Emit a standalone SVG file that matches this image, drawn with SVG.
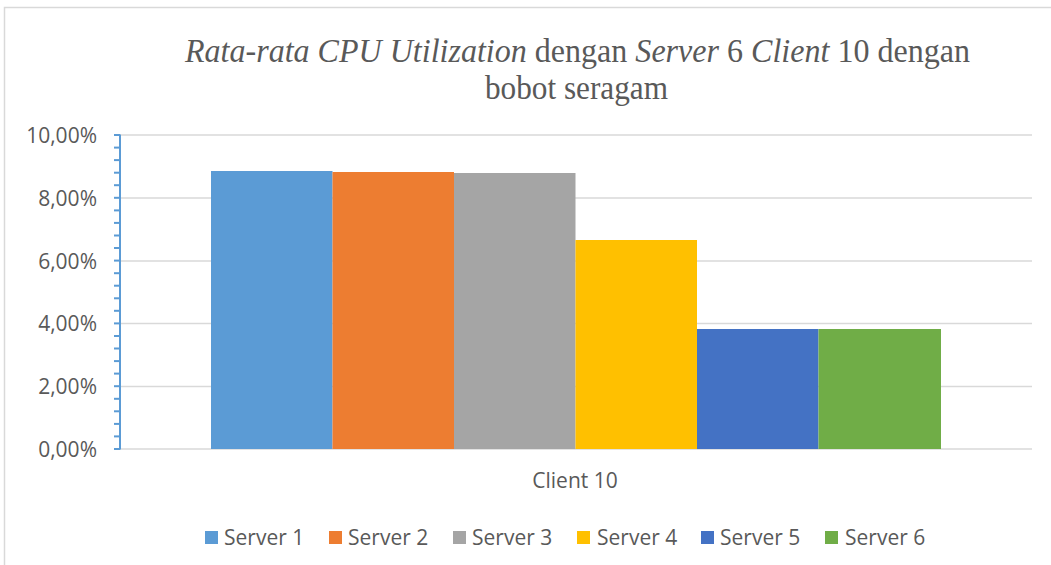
<svg xmlns="http://www.w3.org/2000/svg" width="1051" height="565" viewBox="0 0 1051 565">
  <style>
    .grid { stroke: #d9d9d9; stroke-width: 1.5; }
    .axis { stroke: #5b9bd5; stroke-width: 2; fill: none; }
    .tick { stroke: #5b9bd5; stroke-width: 2; }
    .lbl { font-family: "Open Sans", "Liberation Sans", sans-serif; fill: #595959; }
    .ylbl { font-size: 21px; text-anchor: end; }
    .title { font-family: "Liberation Serif", "Times New Roman", serif; fill: #595959; font-size: 33px; }
    .leg { font-size: 21px; }
  </style>

  <rect x="0" y="0" width="1051" height="565" fill="#ffffff"/>
  <!-- chart frame -->
  <rect x="4.5" y="7.5" width="1070" height="580" fill="#ffffff" stroke="#d9d9d9" stroke-width="1.5"/>

  <!-- title -->
  <g id="title">
    <text class="title" x="185" y="62" textLength="785" lengthAdjust="spacingAndGlyphs"><tspan font-style="italic">Rata-rata CPU Utilization</tspan> dengan <tspan font-style="italic">Server</tspan> 6 <tspan font-style="italic">Client</tspan> 10 dengan</text>
    <text class="title" x="485" y="99" textLength="183" lengthAdjust="spacingAndGlyphs">bobot seragam</text>
  </g>

  <!-- gridlines -->
  <g id="gridlines">
    <line class="grid" x1="120" y1="135" x2="1032" y2="135"/>
    <line class="grid" x1="120" y1="198" x2="1032" y2="198"/>
    <line class="grid" x1="120" y1="261" x2="1032" y2="261"/>
    <line class="grid" x1="120" y1="323.5" x2="1032" y2="323.5"/>
    <line class="grid" x1="120" y1="386.5" x2="1032" y2="386.5"/>
    <line class="grid" x1="120" y1="449" x2="1032" y2="449"/>
  </g>

  <!-- bars -->
  <g id="bars">
    <rect id="server1" x="211" y="171" width="121.5" height="278" fill="#5b9bd5"/>
    <rect id="server2" x="332.5" y="172" width="121.5" height="277" fill="#ed7d31"/>
    <rect id="server3" x="454" y="173" width="121.5" height="276" fill="#a5a5a5"/>
    <rect id="server4" x="575.5" y="240" width="121.5" height="209" fill="#ffc000"/>
    <rect id="server5" x="697" y="329" width="121.5" height="120" fill="#4472c4"/>
    <rect id="server6" x="818.5" y="329" width="122.5" height="120" fill="#70ad47"/>
  </g>

  <!-- value axis -->
  <g id="y-axis">
    <line class="axis" x1="120" y1="134.5" x2="120" y2="449.5"/>
    <line class="tick" x1="114" y1="135" x2="120" y2="135"/>
    <line class="tick" x1="114" y1="147.6" x2="120" y2="147.6"/>
    <line class="tick" x1="114" y1="160.1" x2="120" y2="160.1"/>
    <line class="tick" x1="114" y1="172.7" x2="120" y2="172.7"/>
    <line class="tick" x1="114" y1="185.2" x2="120" y2="185.2"/>
    <line class="tick" x1="114" y1="197.8" x2="120" y2="197.8"/>
    <line class="tick" x1="114" y1="210.4" x2="120" y2="210.4"/>
    <line class="tick" x1="114" y1="222.9" x2="120" y2="222.9"/>
    <line class="tick" x1="114" y1="235.5" x2="120" y2="235.5"/>
    <line class="tick" x1="114" y1="248.0" x2="120" y2="248.0"/>
    <line class="tick" x1="114" y1="260.6" x2="120" y2="260.6"/>
    <line class="tick" x1="114" y1="273.2" x2="120" y2="273.2"/>
    <line class="tick" x1="114" y1="285.7" x2="120" y2="285.7"/>
    <line class="tick" x1="114" y1="298.3" x2="120" y2="298.3"/>
    <line class="tick" x1="114" y1="310.8" x2="120" y2="310.8"/>
    <line class="tick" x1="114" y1="323.4" x2="120" y2="323.4"/>
    <line class="tick" x1="114" y1="336.0" x2="120" y2="336.0"/>
    <line class="tick" x1="114" y1="348.5" x2="120" y2="348.5"/>
    <line class="tick" x1="114" y1="361.1" x2="120" y2="361.1"/>
    <line class="tick" x1="114" y1="373.6" x2="120" y2="373.6"/>
    <line class="tick" x1="114" y1="386.2" x2="120" y2="386.2"/>
    <line class="tick" x1="114" y1="398.8" x2="120" y2="398.8"/>
    <line class="tick" x1="114" y1="411.3" x2="120" y2="411.3"/>
    <line class="tick" x1="114" y1="423.9" x2="120" y2="423.9"/>
    <line class="tick" x1="114" y1="436.4" x2="120" y2="436.4"/>
    <line class="tick" x1="114" y1="449" x2="120" y2="449"/>
    <text class="lbl ylbl" x="97" y="142.5">10,00%</text>
    <text class="lbl ylbl" x="97" y="205.5">8,00%</text>
    <text class="lbl ylbl" x="97" y="268.5">6,00%</text>
    <text class="lbl ylbl" x="97" y="331">4,00%</text>
    <text class="lbl ylbl" x="97" y="394">2,00%</text>
    <text class="lbl ylbl" x="97" y="456.5">0,00%</text>
  </g>

  <!-- category label -->
  <text class="lbl" x="575" y="487.5" font-size="21" text-anchor="middle">Client 10</text>

  <!-- legend -->
  <g id="legend">
    <rect x="205" y="531" width="13" height="13" fill="#5b9bd5"/>
    <text class="lbl leg" x="224" y="544.5">Server 1</text>
    <rect x="329" y="531" width="13" height="13" fill="#ed7d31"/>
    <text class="lbl leg" x="348" y="544.5">Server 2</text>
    <rect x="453" y="531" width="13" height="13" fill="#a5a5a5"/>
    <text class="lbl leg" x="472" y="544.5">Server 3</text>
    <rect x="577" y="531" width="13" height="13" fill="#ffc000"/>
    <text class="lbl leg" x="597" y="544.5">Server 4</text>
    <rect x="701" y="531" width="13" height="13" fill="#4472c4"/>
    <text class="lbl leg" x="720" y="544.5">Server 5</text>
    <rect x="825" y="531" width="13" height="13" fill="#70ad47"/>
    <text class="lbl leg" x="845" y="544.5">Server 6</text>
  </g>
</svg>
